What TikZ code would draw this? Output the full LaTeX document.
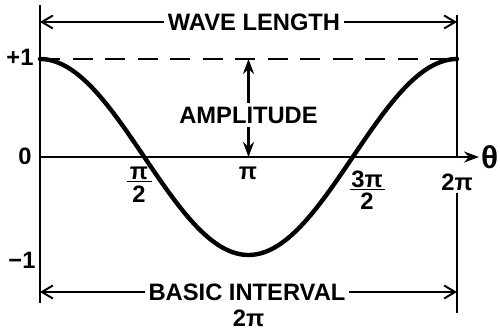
\documentclass[tikz,border=0pt]{standalone}
\usepackage{fontspec}
\setmainfont{Liberation Sans}
\usetikzlibrary{arrows.meta, positioning}

\begin{document}
\begin{tikzpicture}[
    caption/.style={font=\fontsize{13.5}{15}\selectfont\bfseries, inner sep=2pt},
    ticklabel/.style={font=\fontsize{13.5}{15}\selectfont\bfseries, inner sep=1pt},
    dim/.style={-{Straight Barb[length=2.2mm, width=2.6mm]}, line width=1.1pt},
    amp/.style={-{Stealth[length=3mm, width=2.2mm]}, line width=1.3pt},
    wall/.style={line width=1.6pt}
  ]
    \useasboundingbox (-0.8,-3.48) rectangle (9.2,3.14);

    %% frame of one period
    \coordinate (O) at (0,0);
    \coordinate (E) at (8.34,0);
    \coordinate (Ltop) at (0,3.04);
    \coordinate (Lbot) at (0,-2.92);
    \coordinate (Rtop) at (8.34,2.84);
    \coordinate (Rlow) at (8.34,-0.72);
    \coordinate (Rbot) at (8.34,-3.12);
    \draw[wall] (Ltop) -- (Lbot);
    \draw[wall] (Rtop) -- (E);
    \draw[wall] (Rlow) -- (Rbot);

    %% axis
    \coordinate (Xend) at (8.78,0);
    \draw[amp, line width=1.1pt] (O) -- (Xend);
    \node[ticklabel, font=\fontsize{18}{20}\selectfont\bfseries, right=0pt of Xend] (theta) {θ};

    %% amplitude level
    \coordinate (Top) at (0,1.96);
    \coordinate (TopR) at (8.34,1.96);
    \draw[dashed, dash pattern=on 4mm off 2.5mm, line width=1.1pt] (Top) -- (TopR);

    %% cosine
    \draw[line width=2.5pt, line cap=round]
      plot[domain=0:8.34, samples=120, smooth] (\x, {1.96*cos(\x/8.34*360)});

    %% wave length
    \node[caption] (wave) at (4.28,2.7) {WAVE LENGTH};
    \draw[dim] (wave) -- (Ltop |- wave);
    \draw[dim] (wave) -- (Rtop |- wave);

    %% amplitude
    \coordinate (Ahi) at (4.17,1.96);
    \coordinate (Alo) at (4.17,0);
    \node[caption] (ampl) at (4.17,0.84) {AMPLITUDE};
    \draw[amp] (ampl) -- (Ahi);
    \draw[amp] (ampl) -- (Alo);

    %% basic interval
    \node[caption] (basic) at (4.14,-2.7) {BASIC INTERVAL};
    \node[ticklabel] (twopi) at (4.17,-3.22) {2π};
    \draw[dim] (basic) -- (Lbot |- basic);
    \draw[dim] (basic) -- (Rbot |- basic);

    %% tick labels
    \node[ticklabel] (plus) at (-0.4,2.0) {+1};
    \node[ticklabel] (zero) at (-0.3,0.02) {0};
    \node[ticklabel] (minus) at (-0.36,-2.06) {−1};
    \node[ticklabel] (pi) at (4.16,-0.32) {π};
    \node[ticklabel] (full) at (8.34,-0.5) {2π};

    %% fractions
    \node[ticklabel] (halfnum) at (1.98,-0.32) {π};
    \node[ticklabel] (halfden) at (1.98,-0.74) {2};
    \draw[line width=1pt] ([xshift=-2.5mm]halfnum.south) -- ([xshift=2.5mm]halfnum.south);
    \node[ticklabel] (thrnum) at (6.54,-0.44) {3π};
    \node[ticklabel] (thrden) at (6.54,-0.88) {2};
    \draw[line width=1pt] ([xshift=-3.5mm]thrnum.south) -- ([xshift=3.5mm]thrnum.south);
  \end{tikzpicture}
\end{document}
